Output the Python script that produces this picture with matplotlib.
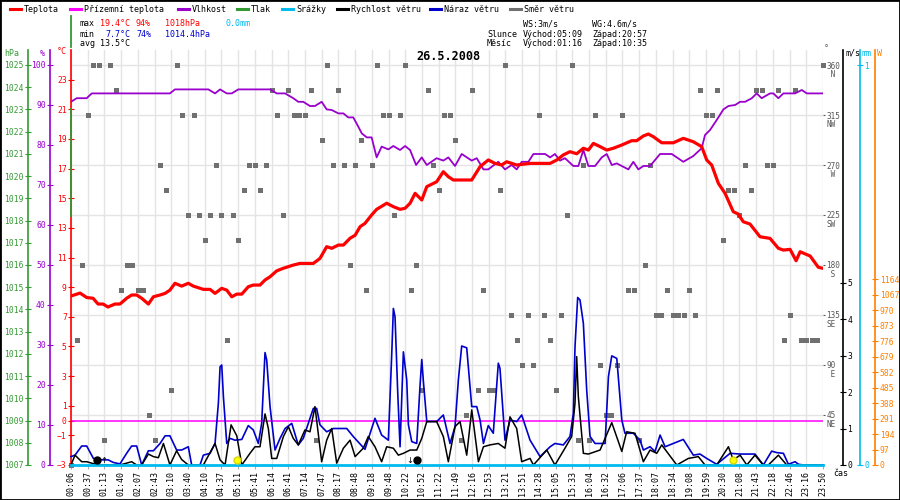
import numpy as np
import matplotlib
matplotlib.use('Agg')
import matplotlib.pyplot as plt
from matplotlib.lines import Line2D
from matplotlib.patches import Rectangle

plt.rcParams['font.family'] = ['DejaVu Sans Mono']
plt.rcParams['font.size'] = 6

# barvy
RED = '#ff0000'
MAG = '#ff00ff'
PUR = '#9900cc'
GRN = '#339933'
CYA = '#00bbee'
BLU = '#0000cc'
GRY = '#707070'
ORA = '#ff8000'

# casy vzorku pod osou x (kazdy treti vzorek)
casy = ['00:06', '00:37', '01:13', '01:40', '02:07', '02:43', '03:10', '03:40', '04:10', '04:37',
        '05:11', '05:41', '06:14', '06:41', '07:14', '07:47', '08:17', '08:48', '09:18', '09:48',
        '10:22', '10:52', '11:22', '11:49', '12:16', '12:53', '13:21', '13:51', '14:28', '15:05',
        '15:33', '16:04', '16:32', '17:06', '17:37', '18:07', '18:34', '19:08', '19:59', '20:30',
        '21:08', '21:43', '22:18', '22:46', '23:16', '23:50']

# teplota [°C]
teplota_u = [0, 0.54, 0.94, 1.32, 1.62, 1.92, 2.21, 2.63, 2.93, 3.33, 3.63, 3.93, 4.23, 4.63, 4.93,
             5.33, 5.63, 5.92, 6.22, 6.62, 7.02, 7.32, 7.92, 8.32, 8.62, 9.02, 9.32, 9.62, 9.92,
             10.22, 10.61, 10.91, 11.31, 11.61, 11.91, 12.31, 12.70, 13.30, 13.70, 14.50, 14.90,
             15.30, 15.60, 16.00, 16.30, 16.70, 17.00, 17.30, 17.59, 17.99, 18.29, 18.89, 19.29,
             19.69, 19.99, 20.29, 20.59, 20.99, 21.29, 21.88, 22.28, 22.58, 22.88, 23.98, 24.48,
             24.97, 25.37, 25.77, 26.07, 26.67, 27.47, 28.67, 29.07, 29.46, 29.86, 30.26, 30.66,
             30.96, 31.26, 31.66, 32.06, 32.45, 32.96, 33.55, 33.85, 34.25, 34.55, 34.85, 35.35,
             36.04, 36.64, 37.24, 37.74, 38.04, 38.34, 38.74, 39.14, 39.63, 39.93, 40.23, 40.63,
             41.23, 41.83, 42.33, 42.63, 43.03, 43.39, 43.63, 44.23, 44.72, 45.0]
teplota = [8.4, 8.6, 8.3, 8.25, 7.86, 7.86, 7.66, 7.86, 7.86, 8.25, 8.47, 8.47, 8.25, 7.86, 8.35,
           8.47, 8.58, 8.8, 9.26, 9.07, 9.26, 9.07, 8.85, 8.85, 8.58, 8.92, 8.8, 8.35, 8.53,
           8.53, 9.03, 9.14, 9.14, 9.48, 9.7, 10.1, 10.27, 10.49, 10.6, 10.6, 10.94,
           11.73, 11.62, 11.84, 11.84, 12.3, 12.5, 13.08, 13.3, 13.87, 14.25, 14.66, 14.43,
           14.25, 14.32, 14.66, 15.33, 14.88, 15.78, 16.11, 16.79, 16.45, 16.23, 16.23, 17.13,
           17.58, 17.35, 17.24, 17.46, 17.24, 17.35, 17.35, 17.58, 17.92, 18.14, 18.0, 18.37,
           18.25, 18.7, 18.48, 18.25, 18.37, 18.59, 18.88, 18.88, 19.2, 19.33, 19.15, 18.74,
           18.74, 19.04, 18.81, 18.48, 17.58, 17.24, 16.0, 15.33, 14.09, 13.93, 13.41, 13.26,
           12.4, 12.29, 11.62, 11.5, 11.55, 10.78, 11.39, 11.1, 10.34, 10.27]

# vlhkost [%]
vlhkost_u = [0, 0.34, 0.94, 1.24, 5.92, 6.22, 8.22, 8.62, 8.92, 9.32, 9.62, 10.01, 11.91, 12.31,
             12.81, 13.30, 13.60, 13.90, 14.30, 14.60, 15.00, 15.30, 15.60, 16.00, 16.30, 16.59,
             16.89, 17.19, 17.40, 17.70, 17.99, 18.29, 18.59, 18.99, 19.29, 19.69, 19.99, 20.29,
             20.65, 20.99, 21.29, 21.88, 22.28, 22.58, 22.98, 23.38, 23.98, 24.28, 24.68, 24.97,
             25.57, 25.97, 26.37, 26.67, 26.97, 27.37, 27.67, 28.37, 28.67, 28.96, 29.26, 29.56,
             30.06, 30.36, 30.66, 30.96, 31.36, 31.76, 32.06, 32.36, 32.66, 32.96, 33.35, 33.65,
             33.95, 34.25, 34.65, 35.25, 35.95, 36.64, 37.24, 37.74, 37.94, 38.24, 38.64, 39.04,
             39.34, 39.74, 40.04, 40.34, 40.74, 41.03, 41.33, 41.83, 42.03, 42.33, 42.63, 43.33,
             43.73, 44.03, 45.0]
vlhkost = [90.8, 91.7, 91.7, 92.9, 92.9, 93.9, 93.9, 92.9, 93.9, 92.9, 92.9, 93.9, 93.9, 92.9,
           92.9, 91.7, 90.8, 90.8, 89.75, 89.75, 90.8, 88.9, 88.75, 87.9, 87.9, 86.9,
           86.9, 84.6, 82.9, 81.9, 81.9, 76.9, 79.6, 78.9, 79.75, 78.75, 79.75, 78.75,
           75.0, 76.9, 75.0, 76.7, 76.1, 76.9, 74.75, 77.75, 76.1, 76.7, 73.9, 73.9,
           75.8, 73.9, 75.0, 73.9, 75.8, 75.8, 77.75, 77.75, 76.9, 77.75, 76.1, 76.7,
           74.75, 74.75, 78.75, 74.75, 74.75, 76.9, 77.75, 75.0, 75.4, 74.75, 73.9, 75.8,
           73.9, 74.75, 74.75, 77.75, 77.75, 75.8, 77.25, 79.2, 82.5, 83.75, 86.25, 88.9,
           89.75, 90.0, 90.8, 90.8, 91.7, 92.9, 91.7, 92.9, 92.9, 91.7, 92.9, 92.9,
           93.75, 92.9, 92.9]

# naraz vetru [m/s]
naraz_u = [0, 0.24, 0.64, 0.94, 1.34, 1.64, 1.94, 2.23, 2.53, 2.93, 3.33, 3.63, 3.93, 4.23, 4.63,
           4.93, 5.33, 5.63, 5.92, 6.32, 6.62, 7.02, 7.22, 7.72, 7.92, 8.32, 8.62, 8.82, 8.92,
           9.02, 9.12, 9.32, 9.52, 9.81, 10.22, 10.61, 10.91, 11.21, 11.41, 11.61, 11.71, 11.91,
           12.21, 12.51, 12.81, 13.21, 13.60, 13.90, 14.20, 14.50, 14.70, 14.90, 15.30, 15.70,
           16.50, 16.89, 17.59, 18.19, 18.59, 18.99, 19.19, 19.29, 19.39, 19.55, 19.69, 19.89,
           20.09, 20.19, 20.39, 20.69, 20.89, 20.99, 21.08, 21.29, 21.88, 22.28, 22.68, 22.98,
           23.18, 23.38, 23.68, 23.98, 24.28, 24.48, 24.68, 24.97, 25.27, 25.57, 25.67, 25.97,
           26.27, 26.67, 26.97, 27.47, 28.07, 28.67, 28.96, 29.46, 29.86, 30.06, 30.16, 30.32,
           30.46, 30.66, 30.86, 31.06, 31.36, 31.96, 32.16, 32.36, 32.66, 32.96, 33.15, 33.65,
           34.05, 34.25, 34.65, 34.95, 35.25, 35.55, 36.04, 36.64, 37.24, 37.64, 38.04, 38.64,
           39.44, 40.04, 40.93, 41.43, 41.93, 42.23, 42.63, 42.93, 43.33, 43.53, 43.83, 45.0]
naraz = [0.23, 0.27, 0.52, 0.52, 0.18, 0.15, 0.14, 0.14, 0.07, 0.03, 0.32, 0.52, 0.52, 0.0, 0.39,
         0.39, 0.59, 0.80, 0.80, 0.41, 0.41, 0.50, 0.0, 0.0, 0.27, 0.32, 0.59, 1.7, 2.69,
         2.74, 1.87, 0.59, 0.73, 0.68, 0.70, 1.08, 0.96, 0.59, 1.14, 3.08, 2.88, 1.6,
         0.41, 0.73, 1.0, 1.14, 0.55, 0.73, 1.14, 1.55, 1.55, 1.10, 0.91, 1.0,
         1.0, 0.78, 0.43, 1.28, 0.82, 0.68, 3.0, 4.29, 4.06, 2.0, 0.5, 3.1,
         2.33, 1.10, 0.64, 0.59, 2.2, 2.89, 2.33, 1.19, 1.19, 1.37, 0.59, 1.05,
         2.33, 3.26, 3.21, 1.60, 1.60, 1.23, 0.59, 1.08, 0.87, 2.79, 2.65, 0.68,
         1.23, 1.19, 1.37, 0.68, 0.23, 0.50, 0.59, 0.55, 0.78, 1.42, 3.24, 4.59,
         4.52, 3.88, 2.05, 0.78, 0.59, 0.59, 2.42, 2.99, 2.92, 1.23, 0.87, 0.87,
         0.68, 0.41, 0.50, 0.37, 0.82, 0.50, 0.59, 0.70, 0.27, 0.30, 0.18, 0.02,
         0.32, 0.30, 0.30, 0.0, 0.38, 0.34, 0.32, 0.02, 0.09, 0.02, 0.0, 0.0]

# rychlost vetru [m/s]
rychlost_u = [0, 0.24, 0.64, 0.94, 1.24, 1.64, 2.93, 3.63, 3.93, 4.23, 4.63, 4.93, 5.23, 5.53,
              5.92, 6.32, 6.62, 7.02, 7.92, 8.62, 8.92, 9.22, 9.58, 9.92, 10.22, 10.71, 11.01,
              11.31, 11.61, 11.81, 12.01, 12.31, 12.71, 13.01, 13.30, 13.60, 14.00, 14.30, 14.60,
              15.00, 15.30, 15.60, 15.90, 16.30, 16.70, 17.00, 17.49, 17.79, 18.19, 18.59, 18.89,
              19.29, 19.59, 19.89, 20.29, 20.69, 20.99, 21.29, 21.88, 22.28, 22.58, 22.98, 23.28,
              23.68, 23.98, 24.38, 24.68, 25.07, 25.57, 25.97, 26.27, 26.67, 26.97, 27.47, 27.67,
              28.47, 28.96, 29.56, 29.96, 30.06, 30.16, 30.26, 30.36, 30.66, 30.96, 31.66, 32.36,
              32.96, 33.25, 33.75, 34.25, 34.65, 35.05, 35.35, 36.25, 36.94, 37.54, 37.94, 38.64,
              39.34, 39.63, 40.04, 40.44, 40.93, 41.43, 41.73, 42.33, 42.83, 45.0]
rychlost = [0.0, 0.27, 0.09, 0.09, 0.05, 0.0, 0.0, 0.09, 0.0, 0.0, 0.30, 0.23, 0.20, 0.59,
            0.0, 0.39, 0.15, 0.0, 0.0, 0.59, 0.14, 0.0, 1.10, 0.80, 0.0, 0.32, 0.50,
            0.50, 1.40, 1.0, 0.18, 0.18, 0.78, 1.05, 0.73, 0.55, 0.96, 0.91, 1.60,
            0.09, 0.68, 1.0, 0.05, 0.46, 0.68, 0.23, 0.46, 0.78, 0.50, 0.09, 0.50,
            0.46, 0.27, 0.32, 0.41, 0.41, 0.73, 1.19, 1.19, 0.78, 0.09, 1.05, 1.19,
            0.27, 1.51, 0.09, 0.50, 0.55, 0.59, 0.46, 1.32, 1.0, 0.09, 0.18, 0.0,
            0.41, 0.0, 0.46, 0.78, 1.23, 1.69, 2.97, 1.87, 0.32, 0.30, 0.41, 1.16,
            0.37, 0.91, 0.87, 0.09, 0.41, 0.32, 0.55, 0.0, 0.18, 0.23, 0.0, 0.0,
            0.50, 0.14, 0.27, 0.0, 0.27, 0.0, 0.0, 0.27, 0.0, 0.0]

# smer vetru [°], tri vzorky na jeden popisek osy x
smer = [0, 112.5, 180, 315, 360, 360, 22.5, 360, 337.5, 157.5,
        180, 180, 157.5, 157.5, 45, 22.5, 270, 247.5, 67.5, 360,
        315, 225, 315, 225, 202.5, 225, 270, 225, 112.5, 225,
        202.5, 247.5, 270, 270, 247.5, 270, 337.5, 315, 225, 337.5,
        315, 315, 315, 337.5, 22.5, 292.5, 360, 270, 337.5, 270,
        180, 270, 292.5, 157.5, 270, 360, 315, 315, 225, 315,
        360, 157.5, 180, 67.5, 337.5, 270, 247.5, 315, 315, 292.5,
        22.5, 45, 337.5, 67.5, 157.5, 67.5, 67.5, 247.5, 360, 135,
        112.5, 90, 135, 90, 315, 135, 112.5, 67.5, 135, 225,
        360, 22.5, 270, 22.5, 315, 90, 45, 45, 90, 315,
        157.5, 157.5, 22.5, 180, 270, 135, 135, 157.5, 135, 135,
        135, 157.5, 135, 337.5, 315, 315, 337.5, 202.5, 247.5, 247.5,
        225, 270, 247.5, 337.5, 337.5, 270, 270, 337.5, 112.5, 135,
        337.5, 112.5, 112.5, 112.5, 112.5, 360]

# prizemni teplota, srazky, tlak
prizemni_u = [0, 45]
prizemni = [0.0, 0.0]
srazky_u = [0, 45]
srazky = [0.0, 0.0]
tlak_u = [0, 0, 0, 0, 0]
tlak = [1027.2, 1025.8, np.nan, 1023.0, 1018.2]

# slunce a mesic (poloha na ose casu)
slunce_u = [9.95, 39.64]
mesic_u = [1.58, 20.7]
mesic_sipky_u = [1.97, 20.3]
mesic_sipky = ['\u2191', '\u2193']

strany = ['NE', ' E', 'SE', ' S', 'SW', ' W', 'NW', ' N']
smer_ticks = [45, 90, 135, 180, 225, 270, 315, 360]
teplota_ticks = [-3, -1, 0, 1, 3, 5, 7, 9, 11, 13, 15, 17, 19, 21, 23]
vykon_ticks = [0, 97, 194, 291, 388, 485, 582, 679, 776, 873, 970, 1067, 1164]

W, H = 900, 500
fig = plt.figure(figsize=(9, 5), dpi=100)
ax = fig.add_axes([71 / W, 35 / H, 752 / W, 415 / H])

ax_h = ax.twinx()
ax_t = ax.twinx()
ax_p = ax.twinx()
ax_r = ax.twinx()
ax_e = ax.twinx()
ax_w = ax.twinx()

for a in [ax, ax_h, ax_t, ax_p, ax_w, ax_r, ax_e]:
    for s in a.spines.values():
        s.set_visible(False)

# zakladni osa = smer vetru + mrizka
ax.set_xlim(0, 45)
ax.set_ylim(0, 373.5)
ax.set_xticks(range(len(casy)))
ax.set_xticklabels(casy, rotation=90)
ax.tick_params(axis='x', length=3, width=0.8, pad=1.5, labelsize=6, color='#aaaaaa')
ax.yaxis.tick_right()
ax.set_yticks(smer_ticks)
ax.tick_params(axis='y', colors='#555555', length=1.5, pad=0.8, labelsize=5.5)
ax.grid(True, color='#e4e4e4', lw=1)
ax.set_axisbelow(True)
for v, s in zip(smer_ticks, strany):
    ax.annotate(s, xy=(1, v), xycoords=('axes fraction', 'data'), xytext=(2.3, -7.0),
                textcoords='offset points', ha='left', va='center', color='#555555', fontsize=5.5)
ax.plot(np.arange(len(smer)) / 3, smer, 's', color=GRY, ms=3.6, mew=0, clip_on=False, zorder=3)


def leva_osa(a, pos, barva):
    a.yaxis.tick_left()
    a.spines['left'].set_visible(True)
    a.spines['left'].set_position(('axes', pos))
    a.spines['left'].set_color(barva)
    a.spines['left'].set_linewidth(1.2)
    a.tick_params(axis='y', colors=barva, direction='inout', length=4, width=0.8,
                  pad=1, labelsize=5.8)


def prava_osa(a, pos, barva):
    a.yaxis.tick_right()
    a.spines['right'].set_visible(True)
    a.spines['right'].set_position(('axes', pos))
    a.spines['right'].set_color(barva)
    a.spines['right'].set_linewidth(1.2)
    a.tick_params(axis='y', colors=barva, direction='inout', length=4, width=0.8,
                  pad=1, labelsize=5.8)


# vlhkost
leva_osa(ax_h, -21 / 752, PUR)
ax_h.set_ylim(0, 103.75)
ax_h.set_yticks(range(0, 101, 10))
ax_h.plot(vlhkost_u, vlhkost, color=PUR, lw=1.3)

# teplota
leva_osa(ax_t, 0, RED)
ax_t.set_ylim(-3, 25)
ax_t.set_yticks(teplota_ticks)
ax_t.plot(prizemni_u, prizemni, color=MAG, lw=1.1)
ax_t.plot(teplota_u, teplota, color=RED, lw=2.3)

# tlak
leva_osa(ax_p, -43 / 752, GRN)
ax_p.set_ylim(1007, 1025.675)
ax_p.set_yticks(range(1007, 1026))
ax_p.plot(tlak_u, tlak, color=GRN, lw=1.3, clip_on=False, zorder=5)

# srazky
prava_osa(ax_r, (860 - 71) / 752, CYA)
ax_r.set_ylim(0, 1.0375)
ax_r.set_yticks([0, 1])

# vykon
prava_osa(ax_e, (875.5 - 71) / 752, ORA)
ax_e.set_ylim(0, 2601)
ax_e.set_yticks(vykon_ticks)

# vitr
prava_osa(ax_w, (843 - 71) / 752, 'black')
ax_w.set_ylim(0, 11.37)
ax_w.set_yticks(range(0, 6))
ax_w.plot(naraz_u, naraz, color=BLU, lw=1.2, clip_on=False)
ax_w.plot(rychlost_u, rychlost, color='black', lw=1.1, clip_on=False)
ax_w.plot(srazky_u, [v * 11.37 / 1.0375 for v in srazky], color=CYA, lw=2, clip_on=False, zorder=4)
ax_w.plot(slunce_u, [0.14] * len(slunce_u), 'o', color='#ffff00', mec='#d8d800', ms=5, zorder=6)
ax_w.plot(mesic_u, [0.14] * len(mesic_u), 'o', color='black', ms=5, zorder=6)
for u, s in zip(mesic_sipky_u, mesic_sipky):
    ax_w.text(u, 0.0, s, ha='center', va='bottom', fontsize=6, family='DejaVu Sans', zorder=6)


def ft(px, py, s, c='black', **kw):
    fig.text(px / W, 1 - py / H, s, color=c, va='center', ha='left', fontsize=6, **kw)


# legenda
legenda = [('Teplota', RED, 10), ('Přízemní teplota', MAG, 70), ('Vlhkost', PUR, 178),
           ('Tlak', GRN, 237), ('Srážky', CYA, 282), ('Rychlost větru', 'black', 337),
           ('Náraz větru', BLU, 430), ('Směr větru', GRY, 510)]
for s, c, px in legenda:
    fig.add_artist(Line2D([px / W, (px + 11) / W], [1 - 9 / H, 1 - 9 / H], color=c, lw=2.2,
                          transform=fig.transFigure))
    ft(px + 14, 9, s)

# statistiky
ft(80, 24, 'max')
ft(100, 24, '19.4°C', RED)
ft(136, 24, '94%', RED)
ft(165, 24, '1018hPa', RED)
ft(226, 24, '0.0mm', CYA)
ft(80, 34, 'min')
ft(105, 34, '7.7°C', BLU)
ft(136, 34, '74%', BLU)
ft(165, 34, '1014.4hPa', BLU)
ft(80, 44, 'avg 13.5°C')
ft(523, 24, 'WS:3m/s')
ft(592, 24, 'WG:4.6m/s')
ft(487, 34, 'Slunce')
ft(523, 34, 'Východ:05:09')
ft(592, 34, 'Západ:20:57')
ft(487, 44, 'Měsíc')
ft(523, 44, 'Východ:01:16')
ft(592, 44, 'Západ:10:35')

fig.text(448 / W, 1 - 57 / H, '26.5.2008', ha='center', va='center', fontsize=8.5,
         fontweight='bold')

# jednotky os
ft(4, 53, 'hPa', GRN)
ft(40, 53, '%', PUR)
ft(57, 52, '°C', RED)
ft(824, 49, '°', '#555555')
ft(845, 53, 'm/s')
ft(861, 53, 'mm', CYA)
ft(877, 53, 'W', ORA)
ft(833, 474, 'čas')

fig.add_artist(Rectangle((0, 0), 1, 1, transform=fig.transFigure, fill=False,
                         ec='black', lw=2))

fig.savefig('out.png', dpi=100)
